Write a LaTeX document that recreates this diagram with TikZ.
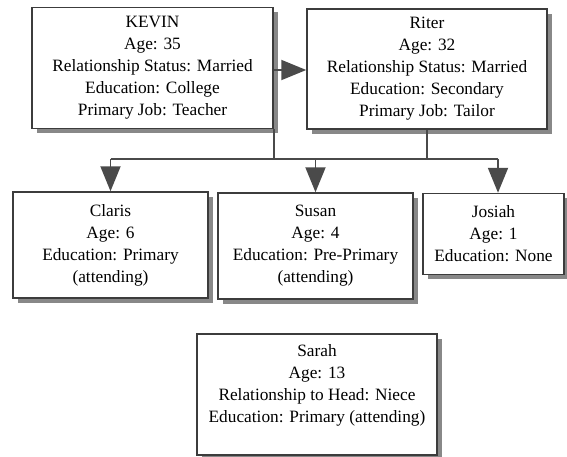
\documentclass[tikz,border=0pt]{standalone}
\usepackage{fontspec}
\setmainfont{Liberation Serif}
\usetikzlibrary{arrows.meta,shadows,calc}
\definecolor{boxline}{HTML}{3C3C3C}
\definecolor{wire}{HTML}{4A4A4A}
\definecolor{shade}{HTML}{888888}
\tikzset{
  person/.style={draw=boxline, line width=1.5pt, fill=white, rectangle,
    align=center, inner sep=0pt,
    font=\fontsize{17.3}{22}\selectfont,
    drop shadow={shadow xshift=4.5pt, shadow yshift=-4.5pt, fill=shade, opacity=1}},
  link/.style={draw=wire, line width=1.9pt},
  linkarrow/.style={link, -{Triangle[length=25pt 0 0,width=20pt 0 0]}}
}
\begin{document}
\begin{tikzpicture}[x=1pt,y=-1pt]
\useasboundingbox (0,0) rectangle (567,456);

% parents
\node[person, minimum width=241pt, minimum height=121pt] (kevin) at (152.5,68)
  {KEVIN\\Age: 35\\Relationship Status: Married\\Education: College\\Primary Job: Teacher};
\node[person, minimum width=240pt, minimum height=120pt] (riter) at (427,69)
  {Riter\\Age: 32\\Relationship Status: Married\\Education: Secondary\\Primary Job: Tailor};

% children
\node[person, minimum width=195pt, minimum height=106pt] (claris) at (110.5,245)
  {Claris\\Age: 6\\Education: Primary\\(attending)};
\node[person, minimum width=195pt, minimum height=106pt] (susan) at (315.5,246)
  {Susan\\Age: 4\\Education: Pre-Primary\\(attending)};
\node[person, minimum width=141pt, minimum height=81pt] (josiah) at (493.5,234)
  {Josiah\\Age: 1\\Education: None};

% niece, set apart below
\node[person, minimum width=240pt, minimum height=121pt] (sarah) at (317,394.5)
  {Sarah\\Age: 13\\Relationship to Head: Niece\\Education: Primary (attending)\\\mbox{}};

% marriage link
\coordinate (mk) at ($(kevin.east)+(0,2)$);
\draw[linkarrow] (mk) -- (mk -| riter.west);

% family bus
\coordinate (busK) at ($(kevin.south east)+(0,29.5)$);
\coordinate (busR) at (riter.south |- busK);
\coordinate (josTop) at ($(josiah.north)+(4.5,0)$);
\draw[link] (kevin.south east) -- (busK);
\draw[link] (claris.north |- busK) -- (busR);
\draw[link] (riter.south) -- (busR) -- (busR -| josTop);
\draw[linkarrow] (claris.north |- busK) -- (claris.north);
\draw[linkarrow] (susan.north |- busK) -- (susan.north);
\draw[linkarrow] (josTop |- busR) -- (josTop);
\end{tikzpicture}
\end{document}
